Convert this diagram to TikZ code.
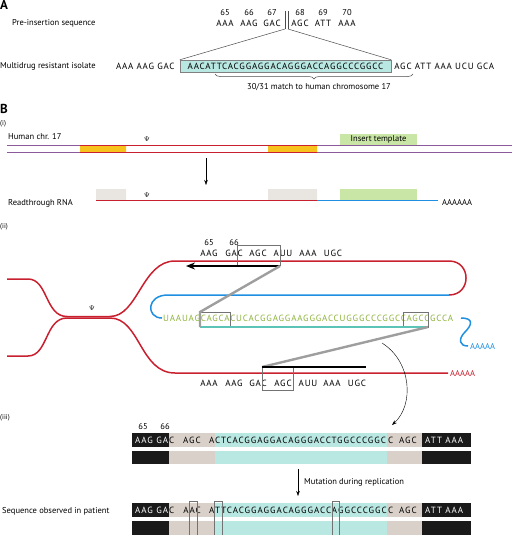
\documentclass[tikz,border=0pt]{standalone}
\usepackage{fontspec}
\setmainfont{PT Sans}
\newfontfamily\seqfont[LetterSpace=9]{PT Sans}
\newfontfamily\barfont[LetterSpace=11]{PT Sans}
\usetikzlibrary{positioning,decorations.pathreplacing,arrows.meta}

\definecolor{rnared}{HTML}{C8202F}
\definecolor{rnablue}{HTML}{1E8FE1}
\definecolor{chrpurple}{HTML}{8B5A9B}
\definecolor{insteal}{HTML}{B9E7E2}
\definecolor{tealline}{HTML}{5BC4B6}
\definecolor{flanktan}{HTML}{D9D1C9}
\definecolor{seqgreen}{HTML}{8DB33B}
\definecolor{tmplgreen}{HTML}{C9E6A6}
\definecolor{exongray}{HTML}{E9E6E2}
\definecolor{exonyellow}{HTML}{F7C21B}
\definecolor{barblack}{HTML}{1A1A1A}

\tikzset{
  lbl/.style={font=\fontsize{8.5}{10}\selectfont, inner sep=0pt},
  seq/.style={font=\fontsize{9}{10}\seqfont, inner sep=0pt},
  barseq/.style={font=\fontsize{9}{10}\barfont, inner sep=0pt},
  num/.style={font=\fontsize{8.5}{10}\selectfont, inner sep=0pt},
  sml/.style={font=\fontsize{7}{8}\selectfont, inner sep=0pt},
  panel/.style={font=\bfseries\fontsize{13}{15}\selectfont, inner sep=0pt, anchor=north west},
  psi/.style={font=\fontsize{7}{8}\selectfont, inner sep=0pt},
  chrline/.style={line width=1.2pt},
  rnaline/.style={line width=1.5pt},
  strand/.style={rnared, line width=1.5pt},
  jump/.style={black!38, line width=2.4pt},
  boxline/.style={black!55, line width=0.5pt},
  thinline/.style={black!70, line width=0.5pt},
  thick arrow/.style={line width=2.5pt},
}

\begin{document}
\begin{tikzpicture}[x=1pt, y=-1pt]
\useasboundingbox (0,0) rectangle (512,535);

\node[panel] (labA) at (0,0) {A};
\node[lbl, anchor=west] (preins) at (12,23) {Pre-insertion sequence};
\foreach \n/\x in {65/225,66/249,67/272,68/300,69/323,70/347}
  \node[num] (pos\n) at (\x,13) {\n};
\foreach \c/\x [count=\i] in {AAA/225,AAG/249,GAC/272,AGC/300,ATT/323,AAA/347}
  \node[seq] (cod\i) at (\x,23) {\c};
\coordinate (cutL) at (285,29);
\coordinate (cutR) at (288,29);
\draw[thinline] (285,11) -- (cutL) (288,11) -- (cutR);
\node[seq, draw=black!50, fill=insteal, minimum width=211pt, minimum height=12pt] (insert) at (285.5,66) {AACATTCACGGAGGACAGGGACCAGGCCCGGCC};
\draw[thinline] (cutL) -- (insert.north west) (cutR) -- (insert.north east);
\node[lbl, anchor=west] (isolate) at (0,66) {Multidrug resistant isolate};
\node[seq, left=5pt of insert] (flankL) {AAA AAG GAC};
\node[seq, right=3pt of insert] (flankR) {AGC ATT AAA UCU GCA};
\draw[thinline, decorate, decoration={brace, amplitude=5pt, mirror}] (215,74) -- (413,74);
\node[lbl] (match) at (319,87) {30/31 match to human chromosome 17};

\node[panel] (labB) at (0,104) {B};
\node[sml, anchor=west] (stepi) at (0,124) {(i)};
\node[lbl, anchor=west] (chr) at (8,137) {Human chr. 17};
\node[lbl, fill=tmplgreen, minimum width=77pt, minimum height=11pt] (tmpl) at (378.5,139.5) {Insert template};
\fill[exonyellow] (80,145.5) rectangle (126,152.5) (268,145.5) rectangle (317,152.5);
\draw[chrline, chrpurple] (7,145.5) -- (80,145.5) (317,145.5) -- (512,145.5)
                          (7,152.5) -- (80,152.5) (317,152.5) -- (512,152.5);
\draw[chrline, rnared] (80,145.5) -- (317,145.5) (80,152.5) -- (317,152.5);
\node[psi] (psiA) at (147,139) {$\Psi$};
\coordinate (txtop) at (206,158);
\coordinate (txbot) at (206,185);
\draw[-{Stealth[length=5pt,width=3.5pt]}] (txtop) -- (txbot);

\node[lbl, anchor=west] (rna) at (8,203) {Readthrough RNA};
\fill[exongray] (96,189) rectangle (126,200) (268,189) rectangle (317,200);
\fill[tmplgreen] (340,189) rectangle (417,200);
\node[psi] (psiB) at (147,195) {$\Psi$};
\draw[rnaline, rnared] (96,200.5) -- (317,200.5);
\draw[rnaline, rnablue] (317,200.5) -- (438,200.5);
\node[lbl, anchor=west] (polyA) at (442,202) {AAAAAA};

\node[sml, anchor=west] (stepii) at (0,227) {(ii)};
\draw[strand] (7,279) -- (28,279) .. controls (48,279) and (45,316.5) .. (67,316.5) -- (110,316.5)
  .. controls (138,316.5) and (142,261) .. (175,261) -- (449,261)
  .. controls (471.7,261) and (471.7,295) .. (449,295);
\draw[strand, rnablue] (449,295) -- (168,295) .. controls (146,295) and (146,318) .. (162,318);
\draw[strand] (7,356) -- (28,356) .. controls (48,356) and (45,318) .. (67,318) -- (110,318)
  .. controls (140,318) and (140,373) .. (175,373) -- (448,373);
\node[psi] (psiC) at (92,308) {$\Psi$};
\foreach \n/\x in {65/209,66/234}
  \node[num] (top\n) at (\x,243) {\n};
\foreach \c/\x [count=\i] in {AAG/209,GAC/234,AGC/258,AUU/283,AAA/308,UGC/333}
  \node[seq] (tc\i) at (\x,253) {\c};
\foreach \c/\x [count=\i] in {AAA/209,AAG/234,GAC/258,AGC/283,AUU/308,AAA/332,UGC/357}
  \node[seq] (bc\i) at (\x,383) {\c};
\node[seq, text=seqgreen, anchor=west] (tmplseq) at (163,318) {UAAUAGCAGCACUCACGGAGGAAGGGACCUGGGCCCGGCCAGCCGCCA};
\draw[boxline] (237,266) -- (237,245) -- (280,245) -- (280,266);
\draw[boxline] (200,312) rectangle (230,327) (403,312) rectangle (428,327);
\draw[boxline] (262,367) rectangle (293,390);
\coordinate (jumpA) at (280,266);
\coordinate (jumpB) at (200,312);
\coordinate (jumpC) at (200,327);
\coordinate (jumpD) at (428,327);
\coordinate (jumpE) at (262,367);
\draw[thick arrow, -{Stealth[length=9pt,width=7pt]}] (jumpA) -- (186,266);
\draw[line width=2.4pt, tealline] (jumpC) -- (jumpD);
\draw[jump] (jumpA) -- (jumpB) -- (jumpC);
\draw[jump] (jumpD) -- (jumpE);
\draw[thick arrow] (jumpE) -- (366,367);
\draw[strand, rnablue] (461,318) .. controls (474,318) and (472,325) .. (465,332)
  .. controls (458,339) and (459,346) .. (468,346);
\node[lbl, text=rnablue, anchor=west] (tailA) at (470,346) {AAAAA};
\node[lbl, text=rnared, anchor=west] (tailB) at (450,373) {AAAAA};
\coordinate (copyS) at (382,343);
\coordinate (copyE) at (392,425);
\draw[-{Stealth[length=5pt,width=3.5pt]}] (copyS) .. controls (412,362) and (414,405) .. (copyE);

\node[sml, anchor=west] (stepiii) at (0,418) {(iii)};
\node[num] (bar65) at (143,427) {65};
\node[num] (bar66) at (165,427) {66};
\foreach \yt/\yb in {433/447,451/464,503/517,521/535} {
  \fill[barblack] (132,\yt) rectangle (169,\yb);
  \fill[flanktan] (169,\yt) rectangle (215,\yb);
  \fill[insteal] (215,\yt) rectangle (387,\yb);
  \fill[flanktan] (387,\yt) rectangle (422,\yb);
  \fill[barblack] (422,\yt) rectangle (471,\yb);
}
\node[barseq, text=white, anchor=west] (r1a) at (135,440) {AAG GA};
\node[barseq, anchor=west] (r1b) at (169,440) {C};
\node[barseq] (r1c) at (192,440) {AGC};
\node[barseq, anchor=west] (r1d) at (209,440) {A};
\node[barseq, anchor=west] (r1e) at (215,440) {CTCACGGAGGACAGGGACCTGGCCCGGC};
\node[barseq, anchor=west] (r1f) at (388,440) {C};
\node[barseq] (r1g) at (408,440) {AGC};
\node[barseq, text=white, anchor=west] (r1h) at (425,440) {ATT AAA};

\coordinate (mutS) at (298,469);
\coordinate (mutE) at (298,496);
\draw[-{Stealth[length=5pt,width=3.5pt]}] (mutS) -- (mutE);
\node[lbl, anchor=west] (mut) at (304,482) {Mutation during replication};

\node[lbl, anchor=west] (observed) at (2,511) {Sequence observed in patient};
\node[barseq, text=white, anchor=west] (r2a) at (135,510) {AAG GA};
\node[barseq, anchor=west] (r2b) at (169,510) {C};
\node[barseq] (r2c) at (192,510) {AAC};
\node[barseq, anchor=west] (r2d) at (209,510) {A};
\node[barseq, anchor=west] (r2e) at (215,510) {TTCACGGAGGACAGGGACCAGGCCCGGC};
\node[barseq, anchor=west] (r2f) at (388,510) {C};
\node[barseq] (r2g) at (408,510) {AGC};
\node[barseq, text=white, anchor=west] (r2h) at (425,510) {ATT AAA};
\draw[boxline] (189,501) rectangle (197,535) (214,501) rectangle (222,535) (332,501) rectangle (339,535);
\end{tikzpicture}
\end{document}
